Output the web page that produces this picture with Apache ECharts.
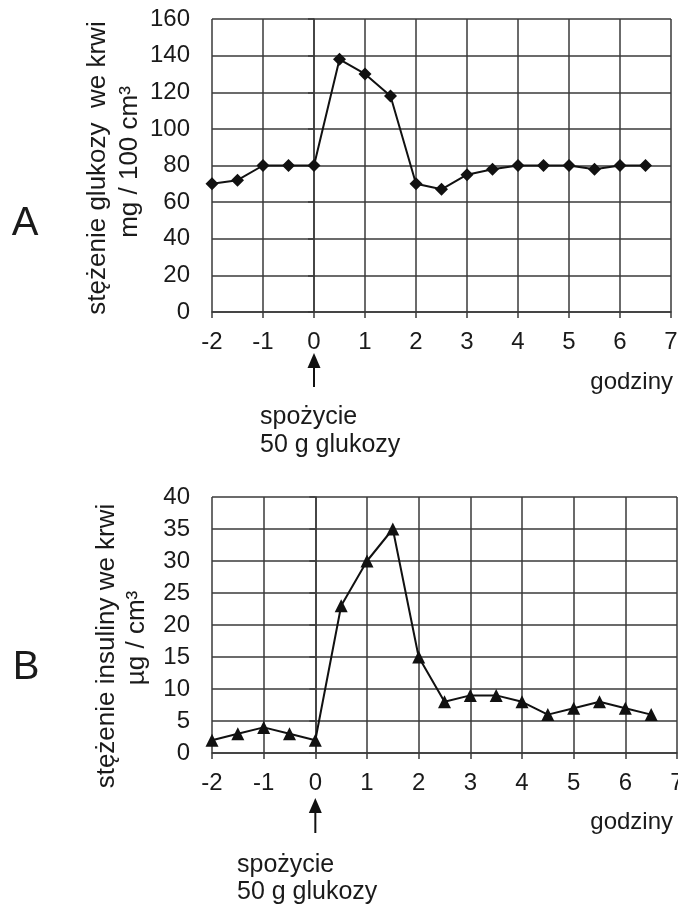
<!DOCTYPE html>
<html>
<head>
<meta charset="utf-8">
<script src="https://cdn.jsdelivr.net/npm/echarts@6/dist/echarts.min.js"></script>
<style>
html,body{margin:0;padding:0;background:#fff;}
#c{width:678px;height:906px;}
</style>
</head>
<body>
<div id="c"></div>
<script>
// Data
var hours = [-2, -1.5, -1, -0.5, 0, 0.5, 1, 1.5, 2, 2.5, 3, 3.5, 4, 4.5, 5, 5.5, 6, 6.5];
var glucose = [70, 72, 80, 80, 80, 138, 130, 118, 70, 67, 75, 78, 80, 80, 80, 78, 80, 80];
var insulin = [2, 3, 4, 3, 2, 23, 30, 35, 15, 8, 9, 9, 8, 6, 7, 8, 7, 6];
var xTicks = [-2, -1, 0, 1, 2, 3, 4, 5, 6, 7];
var glucoseTicks = [0, 20, 40, 60, 80, 100, 120, 140, 160];
var insulinTicks = [0, 5, 10, 15, 20, 25, 30, 35, 40];
var titleA = ['stężenie glukozy  we krwi', 'mg / 100 cm³'];
var titleB = ['stężenie insuliny we krwi', 'µg / cm³'];
var xName = 'godziny';
var noteLines = ['spożycie', '50 g glukozy'];

var FONT = '"Liberation Sans", Arial, Helvetica, sans-serif';
var TXT = '#1a1a1a';
var GRIDC = '#3a3a3a';

function pairs(xs, ys) { return xs.map(function (x, i) { return [x, ys[i]]; }); }

function xAxisCfg(gi) {
  return {
    type: 'value', gridIndex: gi, min: xTicks[0], max: xTicks[xTicks.length - 1], interval: 1,
    axisLine: { show: true, onZero: false, lineStyle: { color: GRIDC, width: 1.5 } },
    axisTick: { show: true, length: 6, lineStyle: { color: GRIDC, width: 1.5 } },
    splitLine: { show: true, lineStyle: { color: GRIDC, width: 1.5 } },
    axisLabel: { fontFamily: FONT, fontSize: 24, color: TXT, margin: 18, hideOverlap: false }
  };
}
function yAxisCfg(gi, ticks) {
  return {
    type: 'value', gridIndex: gi, min: ticks[0], max: ticks[ticks.length - 1], interval: ticks[1] - ticks[0],
    axisLine: { show: true, lineStyle: { color: GRIDC, width: 1.5 } },
    axisTick: { show: true, length: 6, lineStyle: { color: GRIDC, width: 1.5 } },
    splitLine: { show: true, lineStyle: { color: GRIDC, width: 1.5 } },
    axisLabel: { fontFamily: FONT, fontSize: 24, color: TXT, margin: 22 }
  };
}

var chart = echarts.init(document.getElementById('c'), null, { renderer: 'canvas' });
chart.setOption({
  animation: false,
  backgroundColor: '#fff',
  grid: [
    { left: 212, right: 678 - 671, top: 19, height: 293, containLabel: false, outerBoundsMode: 'none' },
    { left: 212, right: 1, top: 497, height: 256, containLabel: false, outerBoundsMode: 'none' }
  ],
  xAxis: [xAxisCfg(0), xAxisCfg(1)],
  yAxis: [yAxisCfg(0, glucoseTicks), yAxisCfg(1, insulinTicks)],
  series: [
    {
      type: 'line', xAxisIndex: 0, yAxisIndex: 0, data: pairs(hours, glucose),
      symbol: 'diamond', symbolSize: 13, showAllSymbol: true,
      lineStyle: { color: '#111', width: 2 }, itemStyle: { color: '#111' }
    },
    {
      type: 'line', xAxisIndex: 1, yAxisIndex: 1, data: pairs(hours, insulin),
      symbol: 'triangle', symbolSize: 13, showAllSymbol: true,
      lineStyle: { color: '#111', width: 2 }, itemStyle: { color: '#111' }
    }
  ]
});

function rotText(x, y, s, size) {
  return { type: 'text', x: x, y: y, rotation: Math.PI / 2,
    style: { text: s, fontFamily: FONT, fontSize: size, fill: TXT, align: 'center', verticalAlign: 'middle' } };
}
function txt(x, y, s, size, align) {
  return { type: 'text', x: x, y: y,
    style: { text: s, fontFamily: FONT, fontSize: size, fill: TXT, align: align || 'left', verticalAlign: 'middle' } };
}
function arrow(x, tip, headH, bottom) {
  return [
    { type: 'line', shape: { x1: x, y1: tip + headH - 1, x2: x, y2: bottom }, style: { stroke: '#111', lineWidth: 2 } },
    { type: 'polygon', shape: { points: [[x, tip], [x - 6.5, tip + headH], [x + 6.5, tip + headH]] }, style: { fill: '#111' } }
  ];
}

var x0a = chart.convertToPixel({ xAxisIndex: 0 }, 0);
var x0b = chart.convertToPixel({ xAxisIndex: 1 }, 0);

var g = [
  txt(25, 224, 'A', 40, 'center'),
  txt(26, 668, 'B', 40, 'center'),
  rotText(98, 168, titleA[0], 26),
  rotText(130, 162, titleA[1], 26),
  rotText(107, 646, titleB[0], 26),
  rotText(137, 638, titleB[1], 26),
  txt(673, 382, xName, 24, 'right'),
  txt(673, 822, xName, 24, 'right'),
  txt(260, 417, noteLines[0], 25),
  txt(260, 445, noteLines[1], 25),
  txt(237, 865, noteLines[0], 25),
  txt(237, 892, noteLines[1], 25)
].concat(arrow(x0a, 353, 15, 387)).concat(arrow(x0b, 798, 15, 833));

chart.setOption({ graphic: g });
</script>
</body>
</html>
